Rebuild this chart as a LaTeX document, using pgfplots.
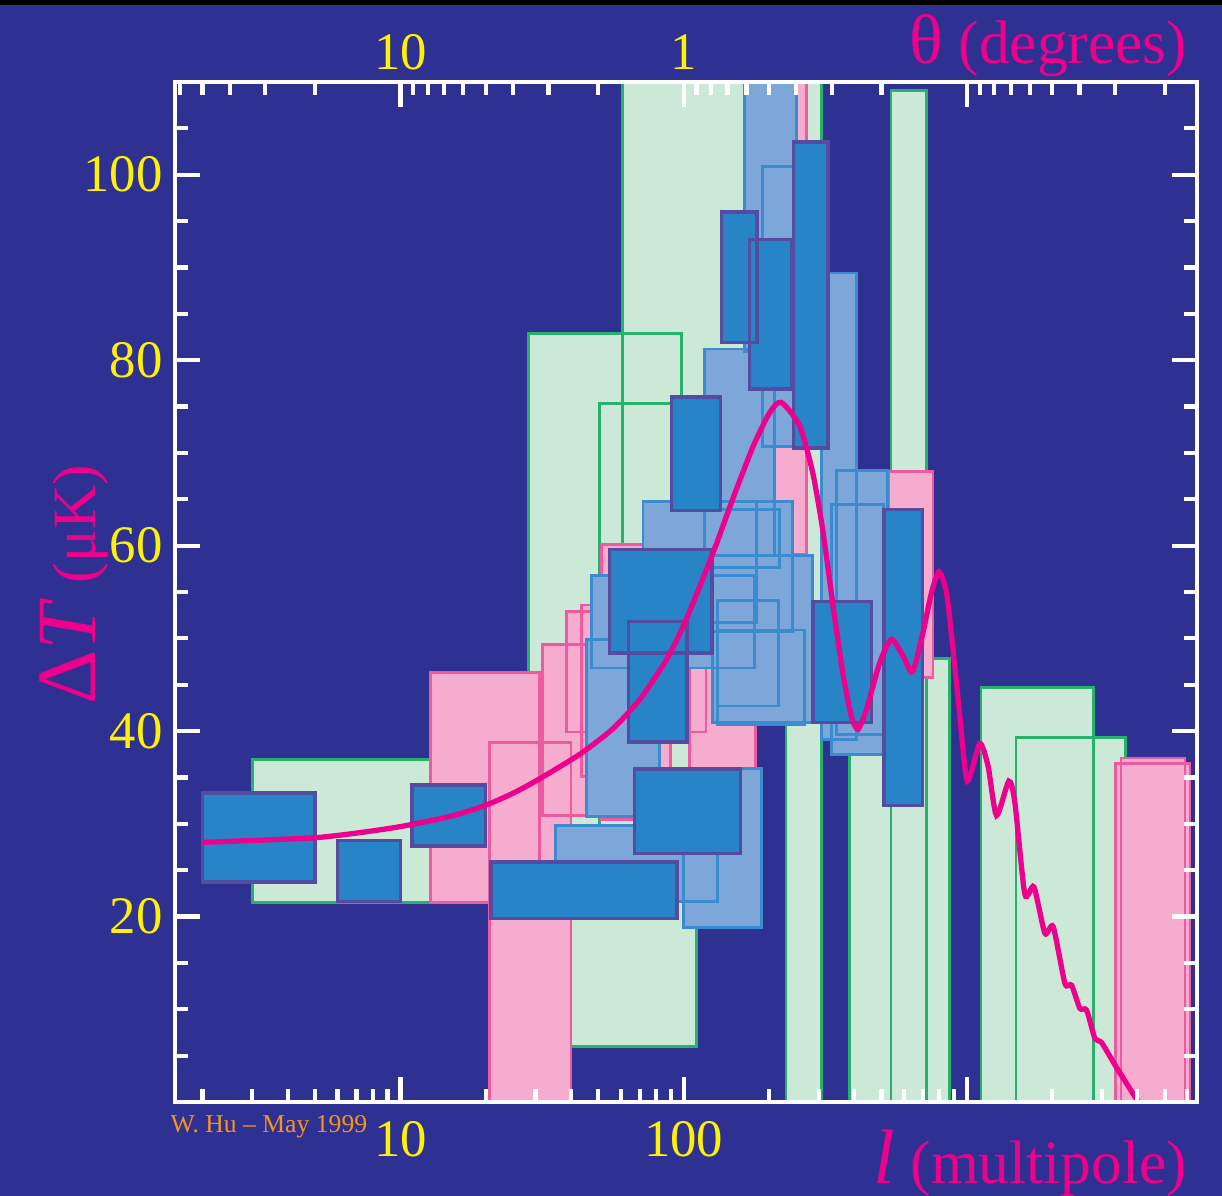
\documentclass[border=0pt]{standalone}
\usepackage{fontspec}
\setmainfont{Liberation Serif}
\usepackage{pgfplots}
\pgfplotsset{compat=1.18}
\definecolor{bg}{RGB}{46,49,146}
\definecolor{gfill}{RGB}{204,232,214}
\definecolor{gline}{RGB}{38,178,108}
\definecolor{pfill}{RGB}{246,172,206}
\definecolor{pline}{RGB}{236,90,160}
\definecolor{lbfill}{RGB}{124,167,216}
\definecolor{lbline}{RGB}{58,140,206}
\definecolor{dbfill}{RGB}{38,132,199}
\definecolor{dbline}{RGB}{84,76,160}
\definecolor{curvec}{RGB}{236,0,140}
\definecolor{ylw}{RGB}{255,242,0}
\definecolor{org}{RGB}{247,148,29}

% box: lmin lmax Tmin Tmax style
\newcommand{\rbox}[5]{\addplot[#5] coordinates {(#1,#3) (#2,#3) (#2,#4) (#1,#4)} --cycle;}

\newcommand{\greenrest}[1]{%
\rbox{3}{20}{21.5}{36.9}{#1}
\rbox{230}{307}{0}{42}{#1}
\rbox{386}{540}{0}{45}{#1}
\rbox{719}{871}{0}{47.8}{#1}
\rbox{540}{719}{0}{109.1}{#1}
\rbox{1123}{2805}{0}{44.7}{#1}
\rbox{1492}{3638}{0}{39.3}{#1}
}
\newcommand{\pinkset}[1]{%
\rbox{12.8}{31}{21.5}{46.3}{#1}
\rbox{20.6}{40}{0}{38.8}{#1}
\rbox{31.7}{60}{30.9}{49.3}{#1}
\rbox{38.5}{120}{39.9}{52.9}{#1}
\rbox{43.5}{70}{35.1}{53.6}{#1}
\rbox{51.3}{90}{30.5}{60.1}{#1}
\rbox{105}{180}{35.8}{58}{#1}
\rbox{181}{272}{59}{125}{#1}
\rbox{530}{760}{45.8}{68.0}{#1}
\rbox{3353}{6140}{0}{36.5}{#1}
\rbox{3501}{5890}{0}{37.1}{#1}
}
\newcommand{\lbset}[1]{%
\rbox{164.2}{250.8}{80.9}{125}{#1}
\rbox{190.2}{246.7}{70.7}{100.9}{#1}
\rbox{306.7}{408.6}{39.1}{89.4}{#1}
\rbox{347.2}{525.8}{39.6}{68.1}{#1}
\rbox{333.4}{509}{37.5}{64.4}{#1}
\rbox{118.7}{209.7}{58.9}{81.2}{#1}
\rbox{71.9}{181.1}{51.7}{64.8}{#1}
\rbox{118.7}{242.8}{50.7}{64.8}{#1}
\rbox{118.7}{218.4}{57.6}{63.9}{#1}
\rbox{126.6}{285.6}{40.9}{58.9}{#1}
\rbox{47.3}{178.2}{46.8}{56.8}{#1}
\rbox{131.9}{267.7}{40.7}{50.9}{#1}
\rbox{131.9}{216.6}{42.7}{54.1}{#1}
\rbox{45.4}{82.3}{30.8}{49.9}{#1}
\rbox{35.3}{131.9}{21.6}{29.8}{#1}
\rbox{100}{188.7}{18.8}{35.95}{#1}
}
\newcommand{\dbset}[1]{%
\rbox{2}{5}{23.7}{33.3}{#1}
\rbox{6}{10}{21.6}{28.2}{#1}
\rbox{11}{20}{27.6}{34.2}{#1}
\rbox{20.9}{94.7}{19.8}{25.9}{#1}
\rbox{67.1}{159}{26.8}{35.9}{#1}
\rbox{63.9}{102.7}{38.8}{51.8}{#1}
\rbox{54.8}{125.9}{48.4}{59.6}{#1}
\rbox{90.5}{134.8}{63.8}{76.0}{#1}
\rbox{135.9}{181.6}{81.9}{96.0}{#1}
\rbox{171.1}{240.3}{76.9}{93.0}{#1}
\rbox{244.7}{323.6}{70.5}{103.5}{#1}
\rbox{286.3}{460.5}{40.9}{54.0}{#1}
\rbox{510.4}{697}{32.0}{63.9}{#1}
}

\pgfplotsset{
  hucommon/.style={
    at={(0,0)}, anchor=south west,
    scale only axis, width=102.2mm, height=102mm,
    xmin=1.6, xmax=6500, ymin=0, ymax=110,
    every tick/.style={white, line width=1.2pt},
    major tick length=2.5mm, minor tick length=1.3mm,
    tick align=inside,
    ticklabel style={text=ylw, font=\fontsize{15}{18}\selectfont},
    /pgf/number format/assume math mode=true,
  },
  gsty/.style={fill=gfill, draw=gline, line width=0.8pt},
}

\begin{document}
\begin{tikzpicture}
\useasboundingbox (-17.5mm,-9.4mm) rectangle (104.7mm,110.2mm);
\fill[bg] (-17.5mm,-9.4mm) rectangle (104.7mm,110.2mm);
\fill[black] (-17.5mm,109.7mm) rectangle (104.7mm,110.2mm);

\begin{semilogxaxis}[hucommon,
  axis on top,
  axis line style={white, line width=1.3pt},
  xtick={10,100,1000}, xticklabels={10,100,{}},
  xticklabel style={yshift=-0.7mm},
  minor xtick={2,3,4,5,6,7,8,9,20,30,40,50,60,70,80,90,200,300,400,500,600,700,800,900,2000,3000,4000,5000,6000},
  xtick pos=left,
  ytick={20,40,60,80,100}, yticklabels={20,40,60,80,100},
  minor ytick={5,10,15,25,30,35,45,50,55,65,70,75,85,90,95,105},
  ytick pos=both, yticklabel pos=left,
]
% green: overlapping group near l=30-300
\rbox{60.9}{307}{42}{125}{fill=gfill, draw=none}
\rbox{28.3}{98.4}{6.0}{82.9}{gsty}
\rbox{38}{111}{6.0}{27}{gsty}
\rbox{50.5}{111}{27}{75.3}{gsty}
\rbox{60.9}{307}{42}{125}{draw=gline, line width=0.8pt, fill=none}
% remaining green
\greenrest{fill=gfill, draw=none}
\greenrest{draw=gline, line width=0.8pt, fill=none}
\pinkset{fill=pfill, draw=none}
\pinkset{draw=pline, line width=0.8pt, fill=none}
\lbset{fill=lbfill, draw=none}
\lbset{draw=lbline, line width=0.8pt, fill=none}
\dbset{fill=dbfill, draw=none}
\dbset{draw=dbline, line width=1.0pt, fill=none}

\addplot[curvec, line width=1.5pt, smooth, tension=0.4] coordinates {
(2,28.0) (3,28.2) (5,28.5) (7,29.0) (10,29.7) (15,30.8) (20,32.0) (25,33.3)
(31,34.85) (43,37.5) (56,40.2) (70,43.4) (87,47.7) (102,52.0) (127,59.2)
(149,65.0) (176,70.7) (201,74.3) (221,75.45) (257,72.9) (286,67.8) (311,61.4)
(337,53.5) (365,46.3) (391,41.6) (413,40.2) (442,42.3) (493,47.4) (542,49.9)
(595,48.1) (643,46.4) (700,50.6) (750,54.9) (798,57.2) (848,54.9) (894,48.8)
(945,41.6) (1004,34.6) (1111,38.65) (1189,36.2) (1273,30.9) (1407,34.6)
(1478,32.3) (1603,22.4) (1725,23.2) (1887,18.2) (2018,18.9) (2220,12.8)
(2344,12.6) (2507,10.1) (2648,9.9) (2834,6.85) (2992,6.4) (3381,3.7)
(3978,0.27) (4100,-0.6)
};
\end{semilogxaxis}

\begin{semilogxaxis}[hucommon,
  axis line style={draw=none},
  xtick={10,100,1000}, xticklabels={10,1,{}},
  minor xtick={1.6667,2,2.5,3.3333,5,11.111,12.5,14.286,16.667,20,25,33.333,50,111.11,125,142.86,166.67,200,250,333.33,500,1111.1,1250,1428.6,1666.7,2000,2500,3333.3,5000},
  xtick pos=right, ytick=\empty,
]
\addplot[draw=none] coordinates {(10,10)};
\end{semilogxaxis}

\node[anchor=base east, text=curvec, font=\fontsize{17.5}{20}\selectfont, inner sep=0pt]
  at (101.3mm,103.8mm) {{\fontsize{20}{22}\selectfont θ} (degrees)};
\node[anchor=base east, text=curvec, font=\fontsize{17.5}{20}\selectfont, inner sep=0pt]
  at (101.3mm,-8.1mm) {{\fontsize{22}{24}\selectfont\itshape l} (multipole)};
\node[rotate=90, anchor=base, text=curvec, font=\fontsize{17.5}{20}\selectfont, inner sep=0pt]
  at (-8.0mm,51.7mm) {{\fontsize{24}{26}\selectfont Δ\textit{T}} (μK)};
\node[anchor=base west, text=org, font=\fontsize{7.3}{9}\selectfont, inner sep=0pt]
  at (-0.5mm,-3.1mm) {W. Hu – May 1999};
\end{tikzpicture}
\end{document}
